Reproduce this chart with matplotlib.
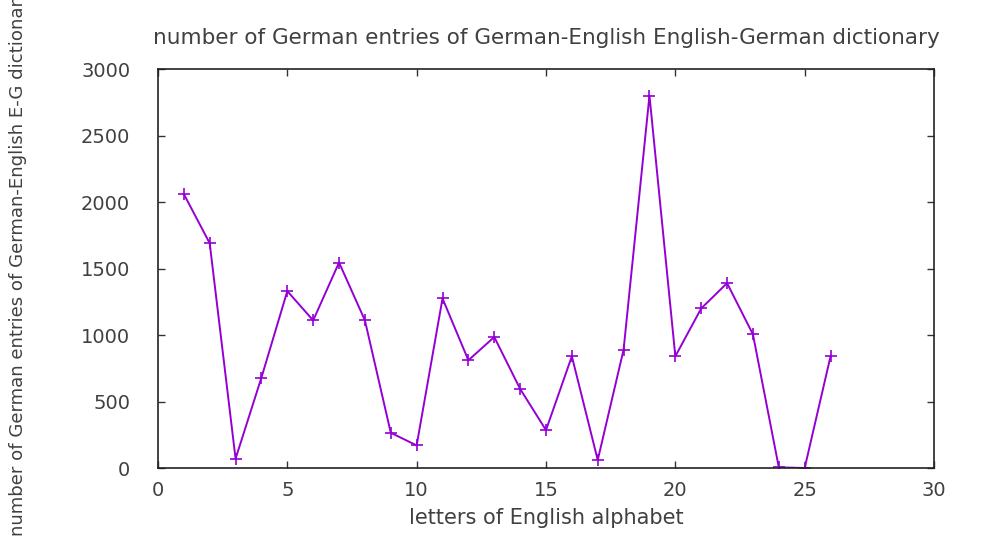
import matplotlib
matplotlib.use("Agg")
import matplotlib.pyplot as plt

# letter index 1..26 (A..Z) and German entry counts
letters = list(range(1, 27))
entries = [2060, 1690, 70, 680, 1330, 1110, 1545, 1110, 265, 170,
           1275, 810, 985, 595, 285, 840, 60, 890, 2800, 840,
           1200, 1390, 1005, 5, 0, 840]

textcol = "#404040"
plt.rcParams['font.family'] = ['DejaVu Sans']

fig = plt.figure(figsize=(9.91, 5.4), dpi=100)
ax = fig.add_axes([0.1594, 0.1333, 0.7831, 0.7389])

ax.plot(letters, entries, color="#9400d3", lw=1.4, marker="+", ms=9, mew=1.2)

ax.set_xlim(0, 30)
ax.set_ylim(0, 3000)
ax.set_xticks(range(0, 31, 5))
ax.set_yticks(range(0, 3001, 500))
ax.tick_params(direction="in", top=True, right=True, length=5, width=1,
               labelsize=14, labelcolor=textcol, color="#333333")
ax.tick_params(axis="x", pad=9)
ax.tick_params(axis="y", pad=20)
for s in ax.spines.values():
    s.set_linewidth(1.2)
    s.set_color("#222222")

ax.set_title("number of German entries of German-English English-German dictionary",
             fontsize=15.5, color=textcol, pad=18)
ax.set_xlabel("letters of English alphabet", fontsize=15, color=textcol, labelpad=6)
# y label sits near the left edge, runs off the top like the original
fig.text(18 / 991, 4 / 540, "number of German entries of German-English E-G dictionary",
         rotation=90, ha="center", va="bottom", fontsize=13.1, color=textcol)

fig.savefig("out.png", dpi=100)
